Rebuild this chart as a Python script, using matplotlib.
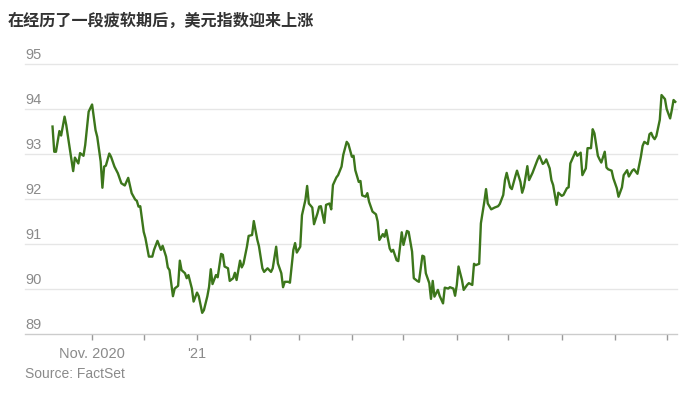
import datetime as dt
import matplotlib
matplotlib.use("Agg")
import matplotlib.pyplot as plt
import matplotlib.transforms as mtransforms

# days counted from 2020-10-01
start = dt.date(2020, 10, 1)
days = [8, 9, 10, 12, 13, 15, 16, 17, 20, 21, 23, 24, 26, 27, 29, 31, 33, 34, 36, 37,
        38, 39, 41, 42, 44, 46, 48, 50, 52, 54, 56, 57, 58, 59, 61, 62, 64, 66, 67, 69,
        71, 72, 74, 75, 76, 78, 79, 81, 82, 83, 85, 86, 87, 89, 90, 92, 93, 95, 96, 98,
        99, 100, 101, 103, 104, 106, 107, 108, 110, 111, 113, 114, 115, 117, 118, 119, 121, 122, 124, 125,
        127, 128, 130, 131, 133, 134, 135, 136, 138, 139, 141, 142, 143, 145, 146, 148, 149, 150, 152, 153,
        155, 156, 157, 159, 160, 162, 163, 164, 166, 167, 169, 170, 171, 173, 174, 176, 177, 179, 180, 182,
        183, 184, 186, 187, 188, 190, 191, 192, 194, 196, 197, 198, 200, 201, 202, 204, 205, 206, 208, 209,
        211, 212, 214, 215, 217, 218, 220, 221, 223, 224, 225, 227, 228, 229, 230, 232, 233, 235, 236, 238,
        239, 241, 242, 243, 244, 246, 247, 249, 250, 252, 253, 254, 256, 257, 259, 260, 261, 263, 265, 267,
        268, 270, 271, 272, 274, 275, 277, 278, 280, 281, 282, 284, 285, 287, 288, 290, 291, 293, 294, 295,
        297, 298, 299, 301, 302, 304, 305, 307, 308, 309, 311, 312, 313, 315, 316, 318, 319, 321, 322, 323,
        325, 326, 327, 329, 330, 331, 333, 334, 336, 337, 339, 340, 342, 343, 345, 346, 347, 348, 350, 351,
        352, 354, 355, 356, 357, 358, 359, 361, 362, 364, 365, 367, 368, 369, 370]
dxy = [93.61, 93.05, 93.05, 93.51, 93.41, 93.83, 93.64, 93.38, 92.62, 92.92, 92.79, 93.02, 92.96, 93.20, 93.94, 94.10, 93.53, 93.38, 92.83, 92.25,
       92.72, 92.74, 93.01, 92.94, 92.72, 92.57, 92.35, 92.30, 92.47, 92.13, 91.99, 91.96, 91.83, 91.84, 91.27, 91.13, 90.72, 90.72, 90.87, 91.07,
       90.87, 90.96, 90.72, 90.48, 90.42, 89.84, 90.01, 90.07, 90.63, 90.42, 90.35, 90.24, 90.31, 90.01, 89.72, 89.92, 89.84, 89.47, 89.53, 89.84,
       90.05, 90.44, 90.11, 90.31, 90.26, 90.78, 90.76, 90.50, 90.46, 90.18, 90.24, 90.36, 90.20, 90.63, 90.48, 90.56, 90.94, 91.18, 91.20, 91.51,
       91.10, 90.95, 90.46, 90.38, 90.46, 90.42, 90.38, 90.46, 90.94, 90.57, 90.35, 90.04, 90.16, 90.16, 90.14, 90.87, 91.02, 90.81, 90.94, 91.64,
       91.98, 92.29, 91.90, 91.81, 91.44, 91.68, 91.83, 91.84, 91.47, 91.87, 91.90, 91.77, 92.31, 92.48, 92.53, 92.72, 92.98, 93.27, 93.22, 92.94,
       92.96, 92.64, 92.38, 92.40, 92.08, 92.05, 92.13, 91.94, 91.72, 91.66, 91.50, 91.09, 91.22, 91.16, 91.31, 90.90, 90.83, 90.87, 90.64, 90.62,
       91.26, 90.98, 91.29, 91.27, 90.83, 90.24, 90.18, 90.16, 90.74, 90.72, 90.35, 90.13, 89.78, 90.18, 89.83, 89.98, 89.85, 89.68, 90.03, 90.01,
       90.04, 90.01, 89.85, 90.09, 90.50, 90.20, 89.98, 90.09, 90.13, 90.09, 90.56, 90.53, 90.56, 91.46, 91.94, 92.22, 91.90, 91.77, 91.81, 91.84,
       91.89, 92.09, 92.42, 92.58, 92.26, 92.22, 92.50, 92.63, 92.38, 92.14, 92.26, 92.73, 92.42, 92.58, 92.68, 92.88, 92.96, 92.78, 92.81, 92.88,
       92.68, 92.42, 92.31, 91.87, 92.14, 92.07, 92.09, 92.24, 92.26, 92.79, 92.96, 93.05, 92.96, 93.03, 92.53, 92.68, 93.13, 93.13, 93.55, 93.46,
       92.96, 92.88, 92.81, 93.05, 92.70, 92.66, 92.63, 92.46, 92.24, 92.05, 92.26, 92.53, 92.64, 92.50, 92.63, 92.66, 92.61, 92.56, 92.94, 93.18,
       93.27, 93.22, 93.44, 93.47, 93.38, 93.33, 93.40, 93.76, 94.31, 94.22, 94.00, 93.79, 93.98, 94.20, 94.16]

y_ticks = [89, 90, 91, 92, 93, 94, 95]
month_ticks = [(2020, 11), (2020, 12), (2021, 1), (2021, 2), (2021, 3), (2021, 4),
               (2021, 5), (2021, 6), (2021, 7), (2021, 8), (2021, 9), (2021, 10)]
month_labels = ["Nov. 2020", "", "'21", "", "", "", "", "", "", "", "", ""]

title = "在经历了一段疲软期后，美元指数迎来上涨"
source = "Source: FactSet"

dates = [start + dt.timedelta(days=d) for d in days]

W, H = 681, 393
fig = plt.figure(figsize=(W / 100, H / 100), dpi=100)
ax = fig.add_axes([25 / W, (H - 334) / H, (677 - 25) / W, (334 - 64) / H])

ax.plot(dates, dxy, color="#3c761b", lw=1.7, solid_joinstyle="round", zorder=3)

ax.set_ylim(89, 95)
ax.set_xlim(start - dt.timedelta(days=8.6), start + dt.timedelta(days=371))

for v in y_ticks[1:]:
    ax.axhline(v, color="#e6e6e6", lw=1, zorder=1, clip_on=False)
for s in ["top", "right", "left"]:
    ax.spines[s].set_visible(False)
ax.spines["bottom"].set_color("#cccccc")
ax.spines["bottom"].set_linewidth(1)

ax.set_yticks([])
trans = mtransforms.blended_transform_factory(ax.transAxes, ax.transData)
for v in y_ticks:
    ax.annotate(str(v), xy=(0, v), xycoords=trans, xytext=(0, 1.5), textcoords="offset points",
                ha="left", va="bottom", fontsize=10.5, color="#8a8a8a", family="Liberation Sans")

ax.set_xticks([dt.date(y, m, 1) for y, m in month_ticks])
ax.set_xticklabels(month_labels, fontsize=10.5, color="#8a8a8a", family="Liberation Sans")
ax.tick_params(axis="x", length=4, width=1, color="#999999", pad=5)

fig.text(8 / W, 1 - 21 / H, title, fontsize=11.6, fontweight="bold", color="#333333",
         family=["Noto Sans CJK SC", "DejaVu Sans"], va="center", ha="left")
fig.text(25 / W, 1 - 374 / H, source, fontsize=10, color="#8a8a8a",
         family="Liberation Sans", va="center", ha="left")

fig.savefig("out.png", dpi=100)
